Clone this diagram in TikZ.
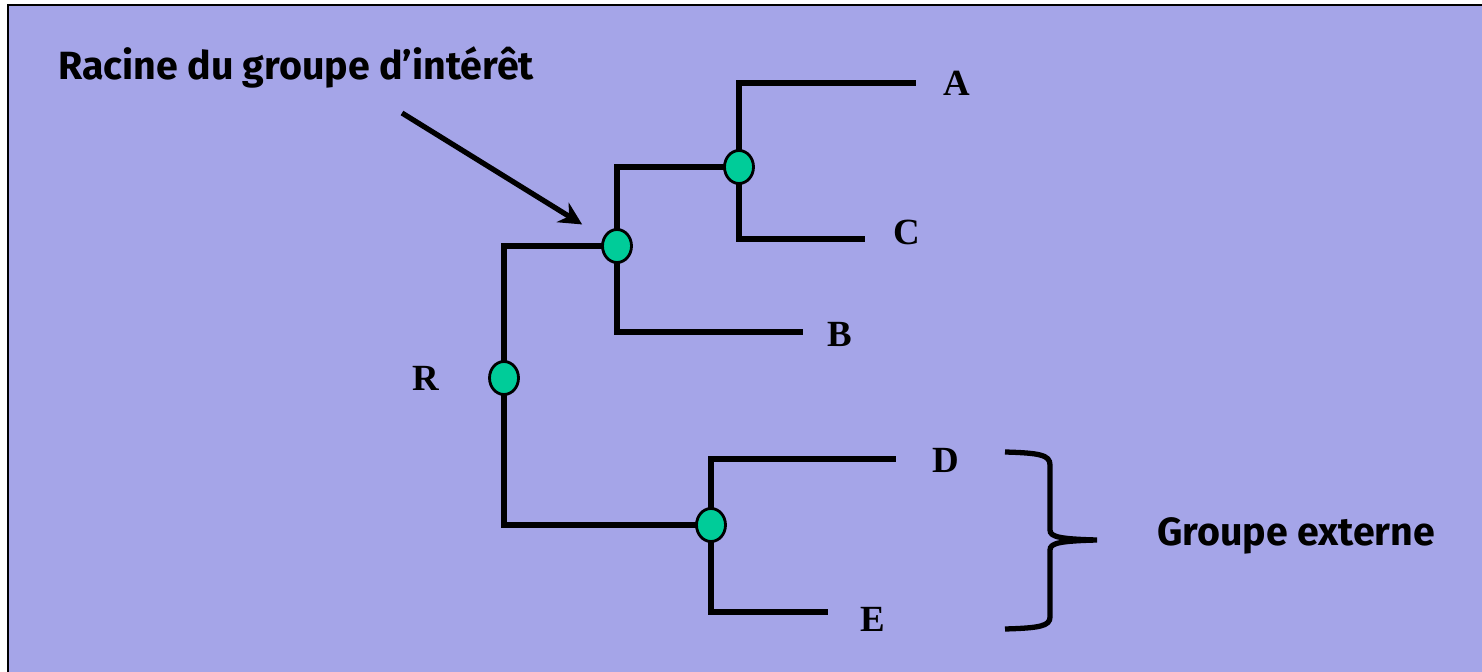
\documentclass[tikz,border=0pt]{standalone}
\usepackage{fontspec}
\setmainfont{Liberation Serif}
\newfontfamily\comicfont{Fira Sans}
\usepackage{xcolor}
\usetikzlibrary{arrows.meta, positioning, shapes.geometric}
\definecolor{bgblue}{RGB}{165,165,232}
\definecolor{nodegreen}{RGB}{0,204,153}

\begin{document}
\begin{tikzpicture}[x=0.02cm, y=-0.02cm,
    branch/.style={line width=3.2pt, line cap=rect},
    knot/.style={draw, line width=1.6pt, fill=nodegreen, ellipse, minimum width=0.58cm, minimum height=0.66cm, inner sep=0pt},
    leaf/.style={font=\fontsize{21}{24}\selectfont\bfseries},
    remark/.style={font=\comicfont\fontsize{22.4}{26}\selectfont\bfseries, inner sep=0pt}]
\useasboundingbox (0,0) rectangle (1482,672);
\draw[fill=bgblue, line width=1.5pt] (8,5) rectangle (1500,700);

% noeuds internes
\node (R)  [knot] at (504,378) {};
\node (n1) [knot] at (617,246) {};
\node (n2) [knot] at (739,167) {};
\node (n3) [knot] at (711,525) {};

% extremites des branches
\coordinate (tA) at (913,83);
\coordinate (tC) at (862,239);
\coordinate (tB) at (800,332);
\coordinate (tD) at (893,459);
\coordinate (tE) at (825,612);

\draw[branch] (R) |- (n1);
\draw[branch] (R) |- (n3);
\draw[branch] (n1) |- (n2);
\draw[branch] (n1) |- (tB);
\draw[branch] (n2) |- (tA);
\draw[branch] (n2) |- (tC);
\draw[branch] (n3) |- (tD);
\draw[branch] (n3) |- (tE);

\node (A) [leaf] at (957,83) {A};
\node (C) [leaf] at (907,232) {C};
\node (B) [leaf] at (840,334) {B};
\node (D) [leaf] at (946,460) {D};
\node (E) [leaf] at (873,619) {E};
\node (Rlab) [leaf] at (426,378) {R};

\node (racine) [remark, anchor=base west] at (58,80) {Racine du groupe d’intérêt};
\coordinate (arrtail) at (402,113);
\draw[line width=3pt, -{Stealth[length=13pt, width=13pt]}, shorten >=14pt] (arrtail) -- (n1);

\draw[line width=3pt] (1005,452) .. controls (1040,453) and (1050,455) .. (1050,465)
    -- (1050,530) .. controls (1050,537) and (1060,539) .. (1097,540)
    .. controls (1060,541) and (1050,543) .. (1050,550)
    -- (1050,617) .. controls (1050,626) and (1040,628) .. (1005,629);
\node (externe) [remark, anchor=base west] at (1157,545) {Groupe externe};
\end{tikzpicture}
\end{document}
